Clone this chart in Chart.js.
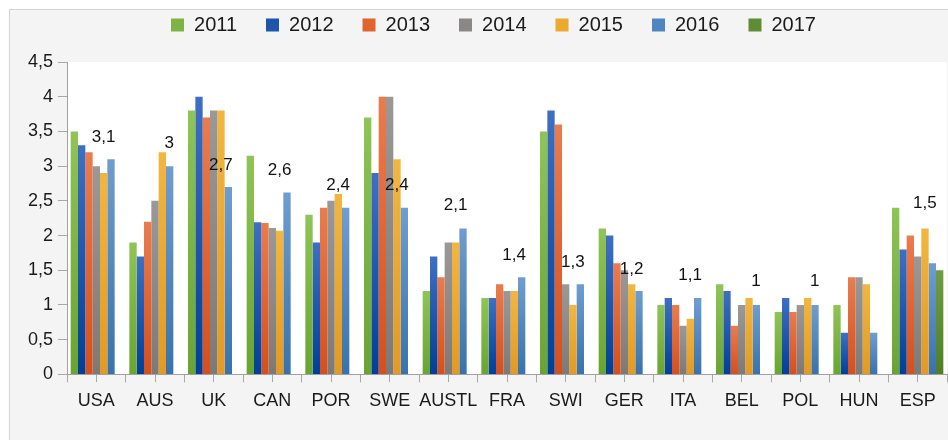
<!DOCTYPE html>
<html>
<head>
<meta charset="utf-8">
<script src="https://cdn.jsdelivr.net/npm/chart.js@4.4.1/dist/chart.umd.min.js"></script>
<style>
  html, body { margin: 0; padding: 0; background: #fff; }
  #wrap { width: 948px; height: 440px; }
</style>
</head>
<body>
<div id="wrap"><canvas id="chart" width="948" height="440"></canvas></div>
<script>
// Categories and series
const countries = ['USA', 'AUS', 'UK', 'CAN', 'POR', 'SWE', 'AUSTL', 'FRA', 'SWI', 'GER', 'ITA', 'BEL', 'POL', 'HUN', 'ESP'];
const years = ['2011', '2012', '2013', '2014', '2015', '2016', '2017'];

const v2011 = [3.5, 1.9, 3.8, 3.15, 2.3, 3.7, 1.2, 1.1, 3.5, 2.1, 1.0, 1.3, 0.9, 1.0, 2.4];
const v2012 = [3.3, 1.7, 4.0, 2.19, 1.9, 2.9, 1.7, 1.1, 3.8, 2.0, 1.1, 1.2, 1.1, 0.6, 1.8];
const v2013 = [3.2, 2.2, 3.7, 2.18, 2.4, 4.0, 1.4, 1.3, 3.6, 1.6, 1.0, 0.7, 0.9, 1.4, 2.0];
const v2014 = [3.0, 2.5, 3.8, 2.11, 2.5, 4.0, 1.9, 1.2, 1.3, 1.5, 0.7, 1.0, 1.0, 1.4, 1.7];
const v2015 = [2.9, 3.2, 3.8, 2.07, 2.6, 3.1, 1.9, 1.2, 1.0, 1.3, 0.8, 1.1, 1.1, 1.3, 2.1];
const v2016 = [3.1, 3.0, 2.7, 2.62, 2.4, 2.4, 2.1, 1.4, 1.3, 1.2, 1.1, 1.0, 1.0, 0.6, 1.6];
const v2017 = [null, null, null, null, null, null, null, null, null, null, null, null, null, null, 1.5];

// Latest-value notes written above each group, and the level they sit at
const noteText = ['3,1', '3', '2,7', '2,6', '2,4', '2,4', '2,1', '1,4', '1,3', '1,2', '1,1', '1', '1', '', '1,5'];
const noteAt = [3.41, 3.33, 3.01, 2.94, 2.72, 2.72, 2.43, 1.72, 1.62, 1.52, 1.43, 1.34, 1.34, 0, 2.46];

const yTickLabels = ['0', '0,5', '1', '1,5', '2', '2,5', '3', '3,5', '4', '4,5'];

// top / bottom shades of each bar, plus flat legend colour
const SHADES = [
  { top: '#8fc457', bottom: '#69a431', flat: '#7db443' },
  { top: '#3f6fc2', bottom: '#003f99', flat: '#1d55ab' },
  { top: '#ea7c4d', bottom: '#d64f1d', flat: '#e0642f' },
  { top: '#9b9997', bottom: '#7c7977', flat: '#8a8886' },
  { top: '#f2b640', bottom: '#e29a22', flat: '#eaa92f' },
  { top: '#6f9dcf', bottom: '#3872ad', flat: '#4f86c0' },
  { top: '#6f9d40', bottom: '#4f7e25', flat: '#5e8d33' },
];

const FONT = 'Liberation Sans, Arial, Helvetica, sans-serif';

function barFill(shade) {
  return ctx => {
    const chart = ctx.chart;
    if (!chart.chartArea || ctx.type !== 'data' || !ctx.parsed || ctx.parsed.y == null) return shade.flat;
    const y = chart.scales.y;
    const y0 = y.getPixelForValue(0);
    const y1 = y.getPixelForValue(ctx.parsed.y);
    if (!isFinite(y1) || Math.abs(y0 - y1) < 1) return shade.flat;
    const g = chart.ctx.createLinearGradient(0, y1, 0, y0);
    g.addColorStop(0, shade.top);
    g.addColorStop(1, shade.bottom);
    return g;
  };
}

const series = [v2011, v2012, v2013, v2014, v2015, v2016, v2017];

const framePlugin = {
  id: 'frame',
  beforeDraw(chart) {
    const { ctx, width, height, chartArea: a } = chart;
    ctx.save();
    ctx.fillStyle = '#ffffff';
    ctx.fillRect(0, 0, width, height);
    ctx.fillStyle = '#f4f4f4';
    ctx.fillRect(9, 9, width, height);
    ctx.strokeStyle = '#d4d4d4';
    ctx.lineWidth = 1;
    ctx.strokeRect(9.5, 9.5, width, height);
    ctx.fillStyle = '#ffffff';
    ctx.fillRect(a.left, a.top, a.right - a.left, a.bottom - a.top);
    ctx.restore();
  },
};

// extra room under the legend and a small nudge to the right
const legendSpace = {
  id: 'legendSpace',
  beforeInit(chart) {
    const legend = chart.legend;
    if (!legend) return;
    const fit = legend.fit;
    legend.fit = function () {
      fit.call(this);
      this.height += 17;
    };
  },
  afterLayout(chart) {
    if (chart.legend) chart.legend.left += 13;
  },
};

const notesPlugin = {
  id: 'notes',
  afterDatasetsDraw(chart) {
    const { ctx } = chart;
    const xs = chart.scales.x;
    const ys = chart.scales.y;
    ctx.save();
    ctx.font = '17px ' + FONT;
    ctx.fillStyle = '#111';
    ctx.textAlign = 'right';
    ctx.textBaseline = 'middle';
    noteText.forEach((t, i) => {
      if (!t) return;
      ctx.fillText(t, xs.getPixelForValue(i) + 19, ys.getPixelForValue(noteAt[i]));
    });
    ctx.restore();
  },
};

new Chart(document.getElementById('chart'), {
  type: 'bar',
  data: {
    labels: countries,
    datasets: years.map((yr, i) => ({
      label: yr,
      data: series[i],
      backgroundColor: barFill(SHADES[i]),
      borderWidth: 0,
      categoryPercentage: 0.875,
      barPercentage: 1,
    })),
  },
  options: {
    responsive: false,
    animation: false,
    layout: { padding: { left: 27, right: 1, top: -14, bottom: 20 } },
    plugins: {
      legend: {
        position: 'top',
        labels: {
          color: '#1a1a1a',
          font: { family: FONT, size: 20 },
          boxWidth: 13,
          boxHeight: 13,
          padding: 29,
          generateLabels: chart => Chart.defaults.plugins.legend.labels.generateLabels(chart).map((l, i) => ({
            ...l,
            fillStyle: SHADES[i].flat,
            strokeStyle: SHADES[i].flat,
            lineWidth: 0,
          })),
        },
      },
      tooltip: { enabled: false },
    },
    scales: {
      x: {
        grid: { offset: true, drawOnChartArea: false, tickLength: 8, color: '#a8a8a8' },
        border: { color: '#a0a0a0' },
        ticks: { color: '#1a1a1a', font: { family: FONT, size: 18 }, padding: 8, maxRotation: 0, autoSkip: false },
      },
      xMid: {
        type: 'category',
        axis: 'x',
        labels: countries,
        position: { y: 0 },
        offset: true,
        grid: { offset: false, drawOnChartArea: false, tickLength: 8, color: '#a8a8a8' },
        border: { display: false },
        ticks: { display: false, autoSkip: false },
      },
      y: {
        min: 0,
        max: 4.5,
        afterFit: s => { s.width = 40; },
        grid: { drawOnChartArea: false, tickLength: 9, color: '#a8a8a8' },
        border: { color: '#a0a0a0' },
        ticks: {
          stepSize: 0.5,
          padding: 5,
          color: '#1a1a1a',
          font: { family: FONT, size: 18 },
          callback: (v, i) => yTickLabels[i],
        },
      },
    },
  },
  plugins: [framePlugin, legendSpace, notesPlugin],
});
</script>
</body>
</html>
